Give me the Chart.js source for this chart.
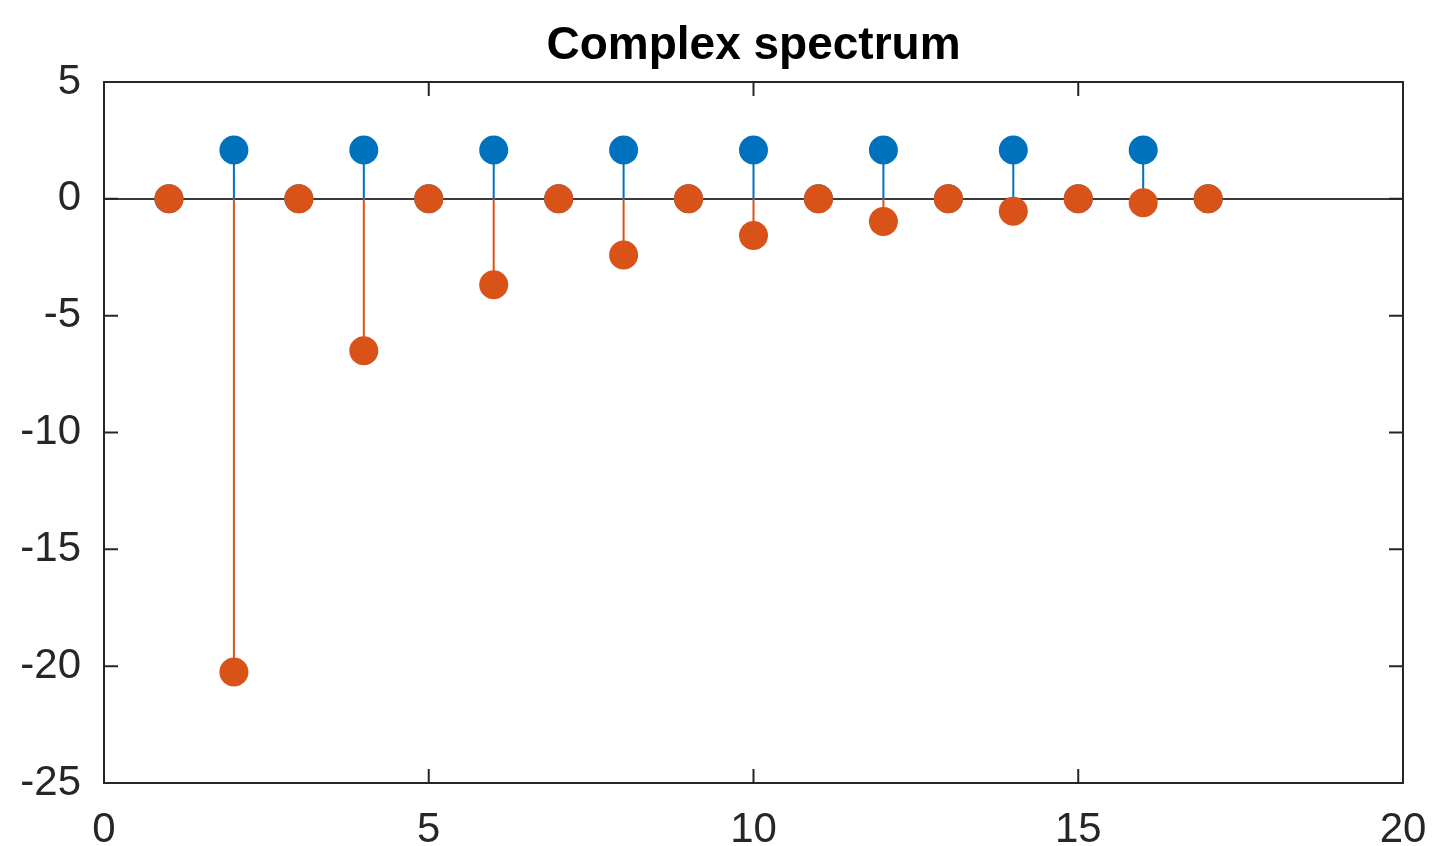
<!DOCTYPE html>
<html>
<head>
<meta charset="utf-8">
<script src="https://cdn.jsdelivr.net/npm/chart.js@4"></script>
<style>
  html, body { margin: 0; padding: 0; background: #fff; }
  #wrap { width: 1435px; height: 846px; }
</style>
</head>
<body>
<div id="wrap"><canvas id="spectrum"></canvas></div>
<script>
// data
const freqs = [1, 2, 3, 4, 5, 6, 7, 8, 9, 10, 11, 12, 13, 14, 15, 16, 17];
const realPart = [0, 2.09, 0, 2.09, 0, 2.09, 0, 2.09, 0, 2.09, 0, 2.09, 0, 2.09, 0, 2.09, 0];
const imagPart = [0, -20.25, 0, -6.5, 0, -3.68, 0, -2.4, 0, -1.57, 0, -0.97, 0, -0.53, 0, -0.17, 0];
const xTicks = [0, 5, 10, 15, 20];
const yTicks = [-25, -20, -15, -10, -5, 0, 5];

const blue = '#0072BD';
const orange = '#D95319';
const axisColor = '#262626';
const fontFamily = "'Liberation Sans', Helvetica, Arial, sans-serif";

// stem = line from 0 to the value, broken by a null between stems
function stems(vals) {
  const out = [];
  freqs.forEach((x, i) => {
    out.push({x: x, y: 0}, {x: x, y: vals[i]}, {x: x, y: null});
  });
  return out;
}
function points(vals) {
  return freqs.map((x, i) => ({x: x, y: vals[i]}));
}

// box + inward tick marks like matlab
const boxTicks = {
  id: 'boxTicks',
  afterDraw(chart) {
    const {ctx, chartArea: a, scales} = chart;
    const len = 14;
    ctx.save();
    ctx.strokeStyle = axisColor;
    ctx.lineWidth = 2;
    ctx.beginPath();
    scales.x.ticks.forEach(t => {
      const px = scales.x.getPixelForValue(t.value);
      ctx.moveTo(px, a.bottom); ctx.lineTo(px, a.bottom - len);
      ctx.moveTo(px, a.top); ctx.lineTo(px, a.top + len);
    });
    scales.y.ticks.forEach(t => {
      const py = scales.y.getPixelForValue(t.value);
      ctx.moveTo(a.left, py); ctx.lineTo(a.left + len, py);
      ctx.moveTo(a.right, py); ctx.lineTo(a.right - len, py);
    });
    ctx.stroke();
    ctx.strokeRect(a.left, a.top, a.right - a.left, a.bottom - a.top);
    ctx.restore();
  }
};

new Chart('spectrum', {
  type: 'scatter',
  data: {
    datasets: [
      {
        label: 'imag',
        data: points(imagPart),
        backgroundColor: orange,
        borderColor: orange,
        pointRadius: 14.5,
        pointBorderWidth: 0,
        order: 0
      },
      {
        label: 'imag stems',
        data: stems(imagPart),
        showLine: true,
        spanGaps: false,
        borderColor: orange,
        borderWidth: 2,
        pointRadius: 0,
        order: 1
      },
      {
        label: 'real',
        data: points(realPart),
        backgroundColor: blue,
        borderColor: blue,
        pointRadius: 14.5,
        pointBorderWidth: 0,
        order: 2
      },
      {
        label: 'real stems',
        data: stems(realPart),
        showLine: true,
        spanGaps: false,
        borderColor: blue,
        borderWidth: 2,
        pointRadius: 0,
        order: 3
      }
    ]
  },
  options: {
    responsive: true,
    maintainAspectRatio: false,
    animation: false,
    layout: { padding: { left: 0, right: 32, top: 0, bottom: 0 } },
    plugins: {
      legend: { display: false },
      tooltip: { enabled: false }
    },
    scales: {
      x: {
        type: 'linear',
        min: 0,
        max: 20,
        afterBuildTicks: s => { s.ticks = xTicks.map(v => ({value: v})); },
        afterFit: s => { s.height = 63; s.paddingLeft = 0; s.paddingRight = 0; },
        grid: { display: false, drawTicks: false },
        border: { display: false },
        ticks: {
          color: axisColor,
          padding: 22,
          maxRotation: 0,
          font: { family: fontFamily, size: 42 }
        }
      },
      // top axis only carries the title so it centres over the plot box
      top: {
        type: 'linear',
        position: 'top',
        min: 0,
        max: 20,
        afterFit: s => { s.height = 82; s.paddingLeft = 0; s.paddingRight = 0; },
        grid: { display: false, drawTicks: false },
        border: { display: false },
        ticks: { display: false },
        title: {
          display: true,
          text: 'Complex spectrum',
          color: '#000',
          font: { family: fontFamily, size: 46, weight: 'bold' },
          padding: { top: 19, bottom: 0 }
        }
      },
      y: {
        type: 'linear',
        min: -25,
        max: 5,
        afterBuildTicks: s => { s.ticks = yTicks.map(v => ({value: v})); },
        afterFit: s => { s.width = 104; },
        grid: {
          drawTicks: false,
          lineWidth: 2,
          color: c => (c.tick && c.tick.value === 0) ? '#3a3a3a' : 'rgba(0,0,0,0)'
        },
        border: { display: false },
        ticks: {
          color: axisColor,
          padding: 23,
          font: { family: fontFamily, size: 42 }
        }
      }
    }
  },
  plugins: [boxTicks]
});
</script>
</body>
</html>
